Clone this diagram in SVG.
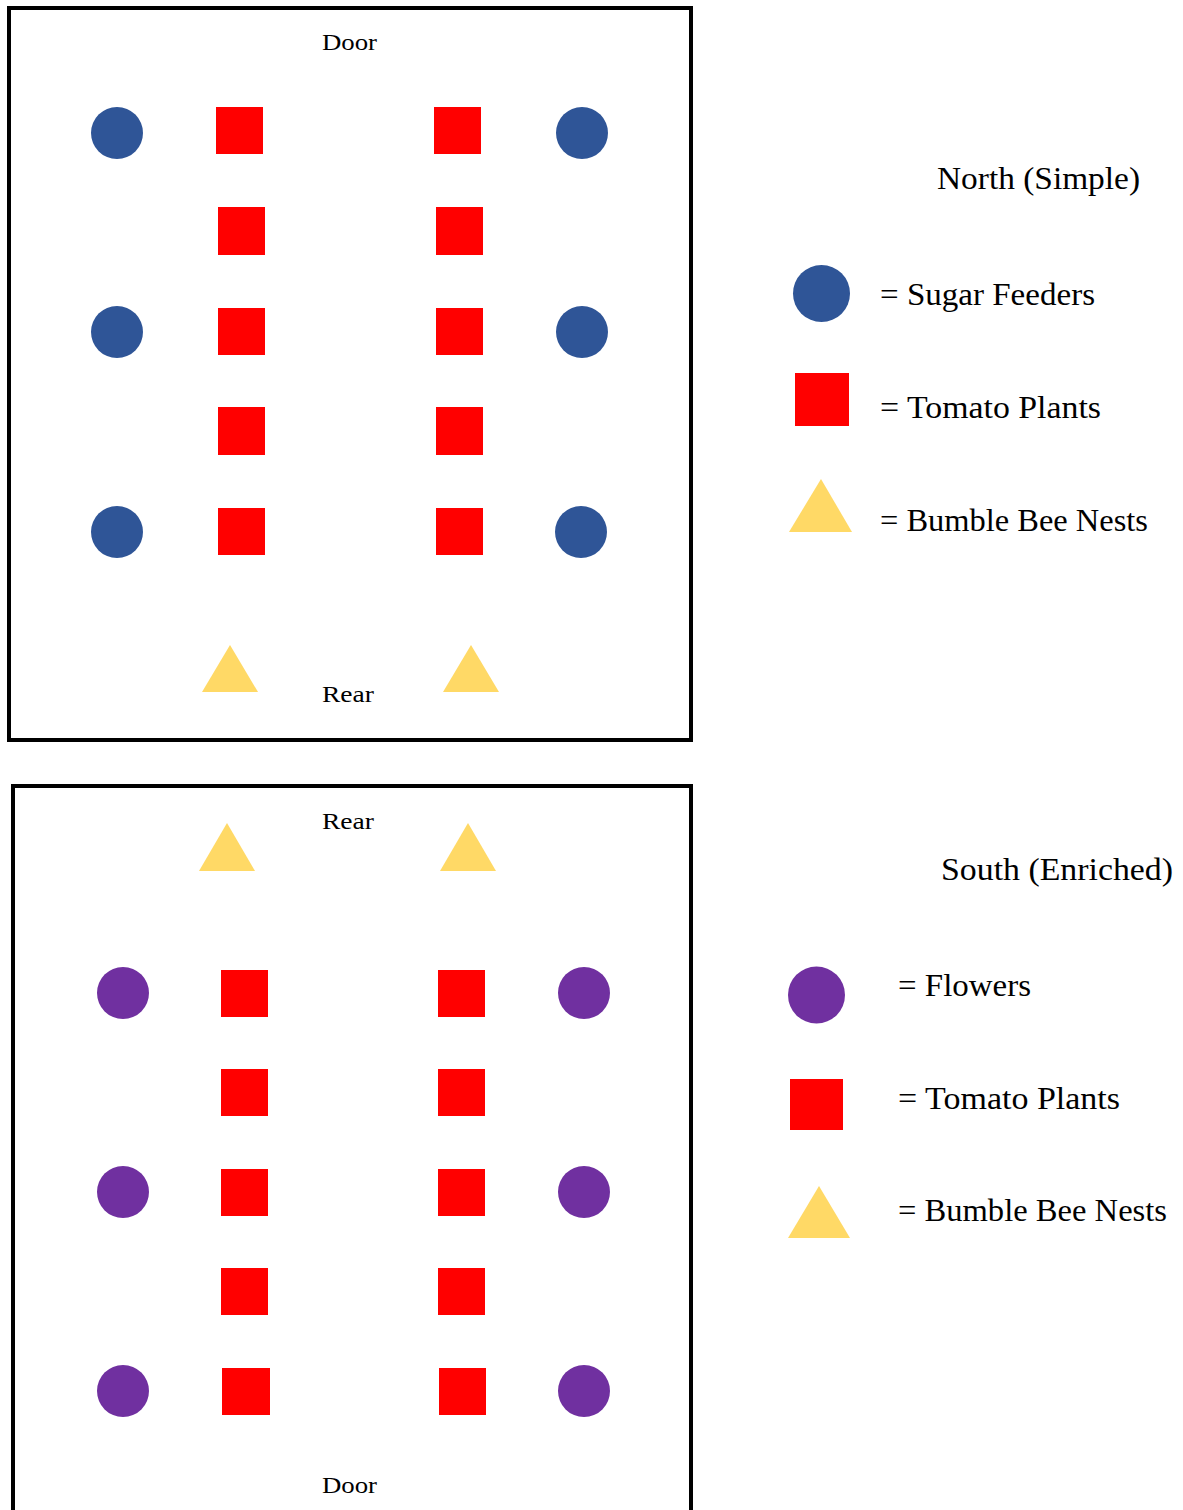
<svg xmlns="http://www.w3.org/2000/svg" width="1183" height="1510" viewBox="0 0 1183 1510">
<style>
.box{fill:#ffffff;stroke:#000000;stroke-width:4}
.feeder{fill:#2F5597}
.flower{fill:#7030A0}
.plant{fill:#FF0000}
.nest{fill:#FFD966}
.lbl{font-family:"Liberation Serif","DejaVu Serif",serif;font-size:24px;fill:#000000}
.leg{font-family:"Liberation Serif","DejaVu Serif",serif;font-size:31px;fill:#000000}
</style>
<rect x="0" y="0" width="1183" height="1510" fill="#ffffff"/>
<g id="north">
<rect class="box" x="9" y="8" width="682" height="732"/>
<text class="lbl" x="322" y="50" textLength="55" lengthAdjust="spacingAndGlyphs">Door</text>
<text class="lbl" x="322" y="702" textLength="52" lengthAdjust="spacingAndGlyphs">Rear</text>
<g id="north-feeders">
<circle class="feeder" cx="117" cy="133" r="26"/>
<circle class="feeder" cx="582" cy="133" r="26"/>
<circle class="feeder" cx="117" cy="332" r="26"/>
<circle class="feeder" cx="582" cy="332" r="26"/>
<circle class="feeder" cx="117" cy="532" r="26"/>
<circle class="feeder" cx="581" cy="532" r="26"/>
</g>
<g id="north-plants">
<rect class="plant" x="216" y="107" width="47" height="47"/>
<rect class="plant" x="218" y="207" width="47" height="48"/>
<rect class="plant" x="218" y="308" width="47" height="47"/>
<rect class="plant" x="218" y="407" width="47" height="48"/>
<rect class="plant" x="218" y="508" width="47" height="47"/>
<rect class="plant" x="434" y="107" width="47" height="47"/>
<rect class="plant" x="436" y="207" width="47" height="48"/>
<rect class="plant" x="436" y="308" width="47" height="47"/>
<rect class="plant" x="436" y="407" width="47" height="48"/>
<rect class="plant" x="436" y="508" width="47" height="47"/>
</g>
<g id="north-nests">
<polygon class="nest" points="202,692 230,645 258,692"/>
<polygon class="nest" points="443,692 471,645 499,692"/>
</g>
</g>
<g id="north-legend">
<text class="leg" x="937" y="189" textLength="203" lengthAdjust="spacingAndGlyphs">North (Simple)</text>
<circle class="feeder" cx="821.5" cy="293.5" r="28.5"/>
<text class="leg" x="880" y="305" textLength="215" lengthAdjust="spacingAndGlyphs">= Sugar Feeders</text>
<rect class="plant" x="795" y="373" width="54" height="53"/>
<text class="leg" x="880" y="418" textLength="221" lengthAdjust="spacingAndGlyphs">= Tomato Plants</text>
<polygon class="nest" points="789,532 821,479 852,532"/>
<text class="leg" x="880" y="531" textLength="268" lengthAdjust="spacingAndGlyphs">= Bumble Bee Nests</text>
</g>
<g id="south">
<rect class="box" x="13" y="786" width="678" height="760"/>
<text class="lbl" x="322" y="829" textLength="52" lengthAdjust="spacingAndGlyphs">Rear</text>
<text class="lbl" x="322" y="1493" textLength="55" lengthAdjust="spacingAndGlyphs">Door</text>
<g id="south-flowers">
<circle class="flower" cx="123" cy="993" r="26"/>
<circle class="flower" cx="584" cy="993" r="26"/>
<circle class="flower" cx="123" cy="1192" r="26"/>
<circle class="flower" cx="584" cy="1192" r="26"/>
<circle class="flower" cx="123" cy="1391" r="26"/>
<circle class="flower" cx="584" cy="1391" r="26"/>
</g>
<g id="south-plants">
<rect class="plant" x="221" y="970" width="47" height="47"/>
<rect class="plant" x="221" y="1069" width="47" height="47"/>
<rect class="plant" x="221" y="1169" width="47" height="47"/>
<rect class="plant" x="221" y="1268" width="47" height="47"/>
<rect class="plant" x="222" y="1368" width="48" height="47"/>
<rect class="plant" x="438" y="970" width="47" height="47"/>
<rect class="plant" x="438" y="1069" width="47" height="47"/>
<rect class="plant" x="438" y="1169" width="47" height="47"/>
<rect class="plant" x="438" y="1268" width="47" height="47"/>
<rect class="plant" x="439" y="1368" width="47" height="47"/>
</g>
<g id="south-nests">
<polygon class="nest" points="199,871 227,823 255,871"/>
<polygon class="nest" points="440,871 468,823 496,871"/>
</g>
</g>
<g id="south-legend">
<text class="leg" x="941" y="880" textLength="232" lengthAdjust="spacingAndGlyphs">South (Enriched)</text>
<circle class="flower" cx="816.5" cy="995" r="28.5"/>
<text class="leg" x="898" y="996" textLength="133" lengthAdjust="spacingAndGlyphs">= Flowers</text>
<rect class="plant" x="790" y="1079" width="53" height="51"/>
<text class="leg" x="898" y="1109" textLength="222" lengthAdjust="spacingAndGlyphs">= Tomato Plants</text>
<polygon class="nest" points="788,1238 819,1186 850,1238"/>
<text class="leg" x="898" y="1221" textLength="269" lengthAdjust="spacingAndGlyphs">= Bumble Bee Nests</text>
</g>
</svg>
